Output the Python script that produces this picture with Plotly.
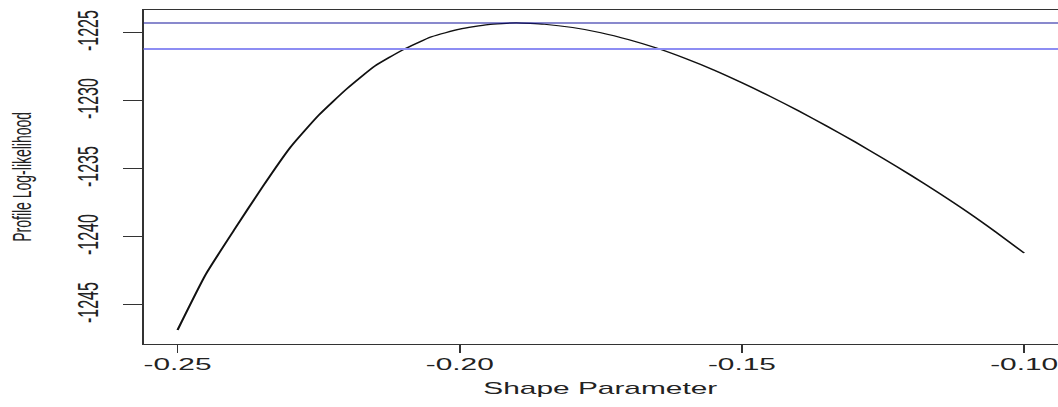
import plotly.graph_objects as go

# Profile log-likelihood for the GEV shape parameter
shape_param = [
    -0.250, -0.245, -0.240, -0.235, -0.230, -0.225, -0.220, -0.215,
    -0.210, -0.205, -0.200, -0.195, -0.190, -0.185, -0.180, -0.175,
    -0.170, -0.165, -0.160, -0.155, -0.150, -0.145, -0.140, -0.135,
    -0.130, -0.125, -0.120, -0.115, -0.110, -0.105, -0.100,
]
profile_loglik = [
    -1246.84, -1242.75, -1239.50, -1236.35, -1233.40, -1231.05, -1229.10, -1227.42,
    -1226.22, -1225.28, -1224.72, -1224.38, -1224.26, -1224.36, -1224.60, -1224.98,
    -1225.50, -1226.13, -1226.88, -1227.72, -1228.66, -1229.66, -1230.72, -1231.84,
    -1233.00, -1234.22, -1235.48, -1236.80, -1238.18, -1239.65, -1241.18,
]
x_ticks = [-0.25, -0.20, -0.15, -0.10]
x_tick_text = ["-0.25", "-0.20", "-0.15", "-0.10"]
y_ticks = [-1245, -1240, -1235, -1230, -1225]
y_tick_text = ["-1245", "-1240", "-1235", "-1230", "-1225"]

CHI2_95_DF1 = 3.841459
peak = max(profile_loglik)
ci_cut = peak - 0.5 * CHI2_95_DF1

# base canvas is drawn narrow and stretched horizontally to the page width
W, H = 569, 407
SX = 1058 / 567
PLOT_W = W - 77
FONT = "Liberation Sans, Arial, sans-serif"
AXIS_COLOR = "#333333"
X_MIN = -0.256
X_PER_PX = 0.162 / 490

fig = go.Figure()
fig.add_trace(go.Scatter(
    x=shape_param, y=profile_loglik, mode="lines",
    line=dict(color="#111111", width=1.2, shape="spline", smoothing=0.5),
    hoverinfo="skip", showlegend=False,
))
fig.add_hline(y=peak, line=dict(color="#15159c", width=1))
fig.add_hline(y=ci_cut, line=dict(color="#8d8df3", width=2))

fig.update_xaxes(
    range=[X_MIN, X_MIN + PLOT_W * X_PER_PX], tickvals=x_ticks, ticktext=x_tick_text,
    ticks="outside", ticklen=8, tickwidth=1, tickcolor=AXIS_COLOR,
    showline=True, mirror=True, linecolor=AXIS_COLOR, linewidth=1,
    showgrid=False, zeroline=False, ticklabeloverflow="allow",
    ticklabelstandoff=-2,
    tickfont=dict(family=FONT, size=16, color="#222222"),
)
fig.update_yaxes(
    range=[-1247.87, -1223.31], tickvals=y_ticks, ticktext=y_tick_text,
    tickangle=-90, ticks="outside", ticklen=10, tickwidth=1, tickcolor=AXIS_COLOR,
    showline=True, mirror=True, linecolor=AXIS_COLOR, linewidth=1,
    showgrid=False, zeroline=False, ticklabelstandoff=7,
    tickfont=dict(family=FONT, size=16, color="#222222"),
)

fig.add_annotation(
    text="Shape Parameter", xref="x", yref="paper", x=-0.175, y=-(388 - 344) / 334,
    xanchor="center", yanchor="middle", showarrow=False,
    font=dict(family=FONT, size=16, color="#222222"),
)
fig.add_annotation(
    text="Profile Log-likelihood", xref="paper", yref="paper", x=(11.8 - 77) / PLOT_W, y=0.5,
    xanchor="center", yanchor="middle", textangle=-90, showarrow=False,
    font=dict(family=FONT, size=14, color="#222222"),
)

fig.update_layout(
    width=W, height=H, autosize=False,
    margin=dict(l=77, r=0, t=10, b=63),
    paper_bgcolor="white", plot_bgcolor="white",
)

post = """
var gd = document.getElementById('{plot_id}');
document.documentElement.style.overflow = 'hidden';
document.body.style.margin = '0';
document.body.style.overflow = 'hidden';
gd.style.transformOrigin = '0 0';
gd.style.transform = 'scaleX(%f)';
""" % SX

fig.write_html("out.html", config={"displayModeBar": False, "responsive": False},
               post_script=post)
